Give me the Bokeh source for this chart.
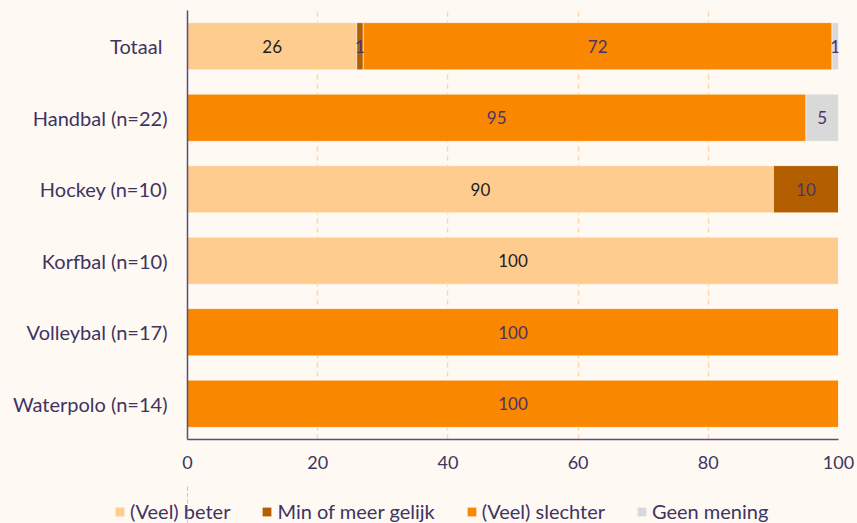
from bokeh.plotting import figure
from bokeh.models import ColumnDataSource, Legend, LegendItem, FixedTicker
from bokeh.layouts import column
from bokeh.core.properties import value
from bokeh.embed import file_html
from bokeh.resources import INLINE

categories = ["Totaal ", "Handbal (n=22)", "Hockey (n=10)", "Korfbal (n=10)",
              "Volleybal (n=17)", "Waterpolo (n=14)"]
series_names = ["(Veel) beter", "Min of meer gelijk", "(Veel) slechter", "Geen mening"]
beter = [26, 0, 90, 100, 0, 0]
gelijk = [1, 0, 10, 0, 0, 0]
slechter = [72, 95, 0, 0, 100, 100]
geen = [1, 5, 0, 0, 0, 0]
x_ticks = [0, 20, 40, 60, 80, 100]

colors = ["#FFCC90", "#B35F00", "#F98700", "#D9D9D9"]
label_colors = ["#1E1E1E", "#4A3468", "#4A3468", "#4A3468"]
keys = ["beter", "gelijk", "slechter", "geen"]
BG = "#FFF9F3"
TXT = "#3D3462"
FONT = "Lato"

data = dict(cat=categories, beter=beter, gelijk=gelijk, slechter=slechter, geen=geen)
src = ColumnDataSource(data)

p = figure(y_range=list(reversed(categories)), x_range=(0, 100),
           frame_width=651, frame_height=429,
           output_backend="svg", toolbar_location=None,
           min_border_left=187, min_border_right=19, min_border_top=10,
           min_border_bottom=46)
p.background_fill_color = BG
p.border_fill_color = BG
p.outline_line_color = None

p.hbar_stack(keys, y="cat", height=0.66, color=colors, source=src,
             line_color=BG, line_width=0.6)

# labels
lx, ly, lt, lc = [], [], [], []
for i, cat in enumerate(categories):
    left = 0
    for k, col in zip(keys, label_colors):
        v = data[k][i]
        if v > 0:
            lx.append(left + v / 2)
            ly.append(cat)
            lt.append(str(v))
            lc.append(col)
        left += v
lsrc = ColumnDataSource(dict(x=lx, y=ly, t=lt, c=lc))
p.text(x="x", y="y", text="t", text_color="c", source=lsrc,
       text_align="center", text_baseline="middle",
       text_font=value(FONT), text_font_size="17px")

p.ygrid.grid_line_color = None
p.xgrid.grid_line_color = "#FFD6A5"
p.xgrid.grid_line_width = 1.5
p.xgrid.grid_line_dash = "5 4"
p.xaxis.ticker = FixedTicker(ticks=x_ticks)

for ax in (p.xaxis[0], p.yaxis[0]):
    ax.axis_line_color = "#5A4C7C"
    ax.axis_line_width = 1.5
    ax.major_tick_line_color = None
    ax.minor_tick_line_color = None
    ax.major_tick_out = 0
    ax.major_tick_in = 0
    ax.major_label_text_font = FONT
    ax.major_label_text_color = TXT
p.yaxis.major_label_text_font_size = "20px"
p.xaxis.major_label_text_font_size = "18px"
p.yaxis.major_label_standoff = 20
p.xaxis.major_label_standoff = 16

# legend strip (separate figure whose frame is the whole strip)
leg = figure(y_range=list(reversed(categories)), x_range=(200, 300),
             frame_width=857, frame_height=38, x_axis_type=None, y_axis_type=None,
             output_backend="svg", toolbar_location=None,
             min_border=0)
leg.background_fill_color = BG
leg.border_fill_color = BG
leg.outline_line_color = None
leg.grid.grid_line_color = None
leg_renderers = leg.hbar_stack(keys, y="cat", height=0.66, color=colors, source=src,
                               line_color=None)

items = [LegendItem(label=n, renderers=[r]) for n, r in zip(series_names, leg_renderers)]
legend = Legend(items=items, orientation="horizontal", location=(114, 0),
                glyph_width=11, glyph_height=11, label_standoff=5, spacing=31,
                padding=0, margin=0, border_line_color=None,
                background_fill_alpha=0, label_text_font=FONT,
                label_text_font_size="20px", label_text_color=TXT,
                label_height=20)
leg.add_layout(legend, "center")

layout = column(p, leg, spacing=0)
layout.styles = {"background-color": BG}
open("out.html", "w").write(file_html(layout, INLINE))
